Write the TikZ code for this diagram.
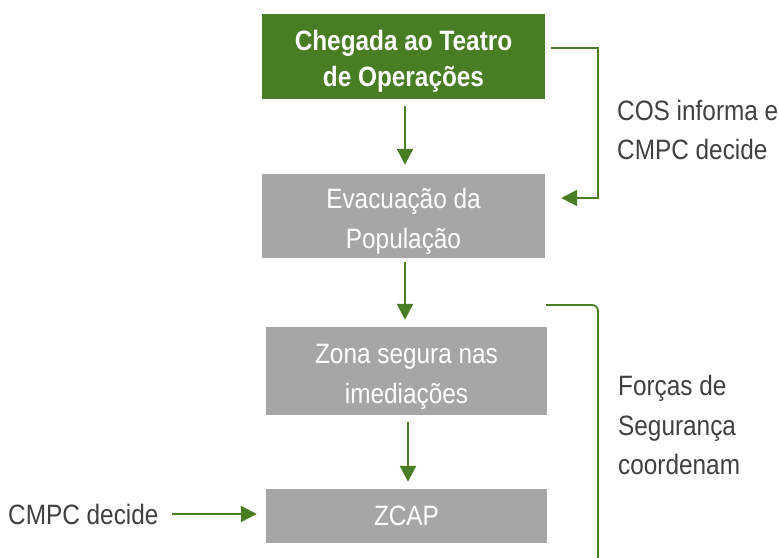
\documentclass[tikz,border=0pt]{standalone}
\usepackage{fontspec}
\setmainfont{Liberation Sans}[FakeStretch=0.87]
\usepackage{xcolor}
\definecolor{LeafGreen}{RGB}{72,125,36}
\definecolor{BoxGray}{RGB}{166,166,166}
\definecolor{LabelGray}{RGB}{64,64,64}
\usepackage{tikz}
\usetikzlibrary{
    arrows.meta,
    positioning
}
% box text, set a little below the box centre
\newcommand{\boxtext}[2][4pt]{%
    \raisebox{-#1}[\height][\depth]{%
        \begin{tabular}{@{}c@{}}#2\end{tabular}%
    }%
}
\tikzset{
    stepbox/.style={
        fill=BoxGray,
        text=white,
        inner sep=0pt,
        font=\fontsize{28}{40}\selectfont
    },
    flow/.style={
        -{Triangle[length=16pt,width=16pt]},
        LeafGreen,
        line width=2.4pt
    },
    sidenote/.style={
        anchor=west,
        align=left,
        text=LabelGray,
        inner sep=0pt,
        font=\fontsize{28}{39.5}\selectfont
    }
}

\begin{document}
\begin{tikzpicture}[x=1pt,y=-1pt]
%
    \useasboundingbox (0,0) rectangle (779,557);
%
    % Main chain
%
    \node[
        stepbox,
        fill=LeafGreen,
        minimum width=283pt,
        minimum height=85pt,
        font=\bfseries\fontsize{28}{36}\selectfont
    ]
    (arrival) at (403.5,56) {
        \boxtext[5pt]{Chegada ao Teatro\\de Operações}
    };
%
    \node[
        stepbox,
        minimum width=283pt,
        minimum height=84pt
    ]
    (evacuation) at (403.5,216) {
        \boxtext{Evacuação da\\População}
    };
%
    \node[
        stepbox,
        minimum width=281pt,
        minimum height=88pt
    ]
    (safezone) at (406.5,371) {
        \boxtext[4.5pt]{Zona segura nas\\imediações}
    };
%
    \node[
        stepbox,
        minimum width=281pt,
        minimum height=54pt
    ]
    (zcap) at (406.5,516) {
        \boxtext[1pt]{ZCAP}
    };
%
    \draw[
        flow,
        shorten <=7pt,
        shorten >=9pt
    ] ([xshift=1.5pt]arrival.south) -- ([xshift=1.5pt]evacuation.north);
    \draw[
        flow,
        shorten <=4pt,
        shorten >=7pt
    ] ([xshift=1.5pt]evacuation.south) -- ([xshift=-1.5pt]safezone.north);
    \draw[
        flow,
        shorten <=7pt,
        shorten >=7pt
    ] ([xshift=1.5pt]safezone.south) -- ([xshift=1.5pt]zcap.north);
%
    % Decision loop on the right
%
    \draw[
        flow,
        line width=2.2pt
    ]
    ([shift={(6pt,8pt)}]arrival.east)
    -- ++(47,0)
    |- ([shift={(16pt,18pt)}]evacuation.east);
%
    \node[sidenote] (cosnote) at (617,130) {
        COS informa e\\
        CMPC decide
    };
%
    % Security forces bracket
%
    \coordinate (brackettop) at (546,305);
    \coordinate (bracketend) at (598,560);
    \draw[
        LeafGreen,
        line width=1.8pt,
        rounded corners=6pt
    ] (brackettop) -| (bracketend);
%
    \node[sidenote] (forcesnote) at (618,425) {
        Forças de\\
        Segurança\\
        coordenam
    };
%
    % Entry decision for ZCAP
%
    \node[sidenote] (cmpcnote) at (8,514) {
        CMPC decide
    };
    \draw[
        flow,
        shorten <=7pt,
        shorten >=9pt
    ] (cmpcnote.east) -- (zcap.west |- cmpcnote.east);
%
\end{tikzpicture}
\end{document}
